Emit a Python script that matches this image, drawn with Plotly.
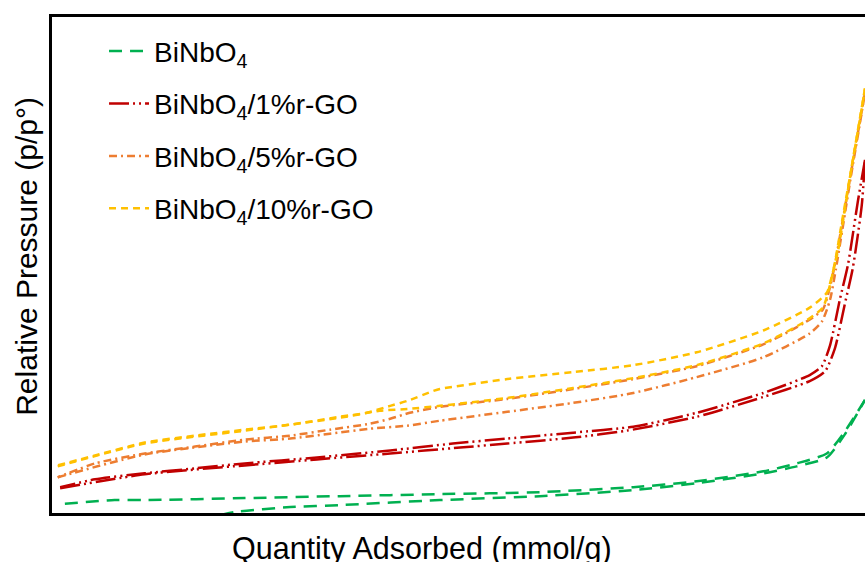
import plotly.graph_objects as go

# Relative pressure (x) and quantity adsorbed (y) for each branch of the isotherm loops
bnb_ads_x = [0.182, 0.225, 0.293, 0.354, 0.477, 0.600, 0.715, 0.793, 0.875, 0.916, 0.953, 0.975, 1.0]
bnb_ads_y = [-0.07, 0.01, 0.06, 0.08, 0.13, 0.17, 0.23, 0.30, 0.40, 0.47, 0.56, 0.79, 1.14]
bnb_des_x = [1.0, 0.975, 0.953, 0.916, 0.875, 0.793, 0.715, 0.600, 0.477, 0.354, 0.237, 0.114, 0.077, 0.010]
bnb_des_y = [1.14, 0.82, 0.60, 0.50, 0.42, 0.32, 0.26, 0.21, 0.19, 0.17, 0.15, 0.13, 0.13, 0.09]

go1_ads_x = [0.010, 0.114, 0.237, 0.326, 0.416, 0.502, 0.560, 0.641, 0.707, 0.793, 0.875, 0.932, 0.951, 0.963, 0.975, 0.985, 0.996, 1.0]
go1_ads_y = [0.25, 0.39, 0.48, 0.54, 0.60, 0.66, 0.70, 0.76, 0.83, 0.97, 1.17, 1.33, 1.43, 1.66, 2.10, 2.47, 3.10, 3.56]
go1_des_x = [1.0, 0.991, 0.979, 0.969, 0.957, 0.947, 0.932, 0.875, 0.793, 0.715, 0.641, 0.560, 0.493, 0.416, 0.326, 0.237, 0.176, 0.114, 0.053, 0.010]
go1_des_y = [3.56, 3.13, 2.50, 2.15, 1.69, 1.48, 1.39, 1.21, 1.01, 0.87, 0.81, 0.75, 0.70, 0.63, 0.56, 0.50, 0.45, 0.40, 0.34, 0.26]

go5_ads_x = [0.007, 0.114, 0.237, 0.293, 0.342, 0.391, 0.437, 0.477, 0.560, 0.641, 0.715, 0.793, 0.875, 0.932, 0.947, 0.957, 0.964, 0.973, 0.983, 0.994, 1.0]
go5_ads_y = [0.36, 0.59, 0.72, 0.75, 0.80, 0.85, 0.88, 0.93, 1.02, 1.11, 1.21, 1.37, 1.57, 1.81, 1.93, 2.15, 2.45, 2.90, 3.41, 3.94, 4.24]
go5_des_x = [1.0, 0.994, 0.983, 0.973, 0.964, 0.957, 0.948, 0.924, 0.875, 0.793, 0.715, 0.641, 0.560, 0.477, 0.440, 0.416, 0.391, 0.342, 0.293, 0.237, 0.176, 0.114, 0.053, 0.007]
go5_des_y = [4.24, 3.96, 3.44, 2.97, 2.55, 2.28, 2.05, 1.91, 1.70, 1.48, 1.35, 1.25, 1.15, 1.07, 1.01, 0.95, 0.90, 0.84, 0.78, 0.74, 0.67, 0.60, 0.50, 0.36]

go10_ads_x = [0.007, 0.114, 0.237, 0.354, 0.403, 0.440, 0.477, 0.560, 0.641, 0.715, 0.793, 0.875, 0.924, 0.948, 0.957, 0.964, 0.973, 0.983, 0.994, 1.0]
go10_ads_y = [0.47, 0.70, 0.83, 0.96, 1.03, 1.05, 1.08, 1.16, 1.26, 1.36, 1.49, 1.71, 1.92, 2.07, 2.30, 2.57, 3.00, 3.46, 3.98, 4.28]
go10_des_x = [1.0, 0.994, 0.984, 0.975, 0.967, 0.959, 0.953, 0.932, 0.875, 0.793, 0.715, 0.641, 0.560, 0.477, 0.469, 0.437, 0.416, 0.387, 0.354, 0.293, 0.237, 0.176, 0.114, 0.053, 0.007]
go10_des_y = [4.28, 3.99, 3.51, 3.05, 2.65, 2.38, 2.22, 2.07, 1.84, 1.62, 1.49, 1.42, 1.35, 1.25, 1.23, 1.13, 1.08, 1.01, 0.97, 0.89, 0.84, 0.78, 0.71, 0.58, 0.48]

series_names = [
    "BiNbO<sub>4</sub>",
    "BiNbO<sub>4</sub>/1%r-GO",
    "BiNbO<sub>4</sub>/5%r-GO",
    "BiNbO<sub>4</sub>/10%r-GO",
]
series_colors = ["#00B050", "#C00000", "#ED7D31", "#FFC000"]
series_dashes = ["13px,8px", "20px,4px,2px,4px,2px,4px", "8px,4px,2px,4px", "7px,5px"]
branches = [
    ((bnb_ads_x, bnb_ads_y), (bnb_des_x, bnb_des_y)),
    ((go1_ads_x, go1_ads_y), (go1_des_x, go1_des_y)),
    ((go5_ads_x, go5_ads_y), (go5_des_x, go5_des_y)),
    ((go10_ads_x, go10_ads_y), (go10_des_x, go10_des_y)),
]

fig = go.Figure()
for i, (name, color, dash, pair) in enumerate(zip(series_names, series_colors, series_dashes, branches)):
    for j, (bx, by) in enumerate(pair):
        fig.add_trace(go.Scatter(
            x=bx, y=by, mode="lines", name=name,
            legendgroup=f"g{i}", showlegend=(j == 0),
            line=dict(color=color, width=2.5, dash=dash, shape="spline", smoothing=0.6),
        ))

fig.update_layout(
    width=865, height=562,
    margin=dict(l=52, r=0, t=17, b=49),
    paper_bgcolor="white", plot_bgcolor="white",
    font=dict(family="Liberation Sans, Arial, sans-serif", color="black"),
    showlegend=True,
    legend=dict(
        x=0.064, y=0.981, xanchor="left", yanchor="top",
        font=dict(size=28, color="black"),
        bgcolor="rgba(0,0,0,0)", borderwidth=0,
        tracegroupgap=13, itemwidth=40,
    ),
    xaxis=dict(
        range=[0, 1.0], showgrid=False, zeroline=False, showticklabels=False, ticks="",
        showline=True, linecolor="black", linewidth=3, mirror=True,
    ),
    yaxis=dict(
        range=[0, 5.0], showgrid=False, zeroline=False, showticklabels=False, ticks="",
        showline=True, linecolor="black", linewidth=3, mirror=False,
    ),
    annotations=[
        dict(text="Quantity Adsorbed (mmol/g)", xref="paper", yref="paper",
             x=(422 - 52) / 813, y=-0.072, xanchor="center", yanchor="middle",
             showarrow=False, font=dict(size=30.5, color="black")),
        dict(text="Relative Pressure (p/p°)", xref="paper", yref="paper",
             x=-0.031, y=(513 - 256) / 496, xanchor="center", yanchor="middle", textangle=-90,
             showarrow=False, font=dict(size=30, color="black")),
    ],
)

fig.write_html("out.html")
